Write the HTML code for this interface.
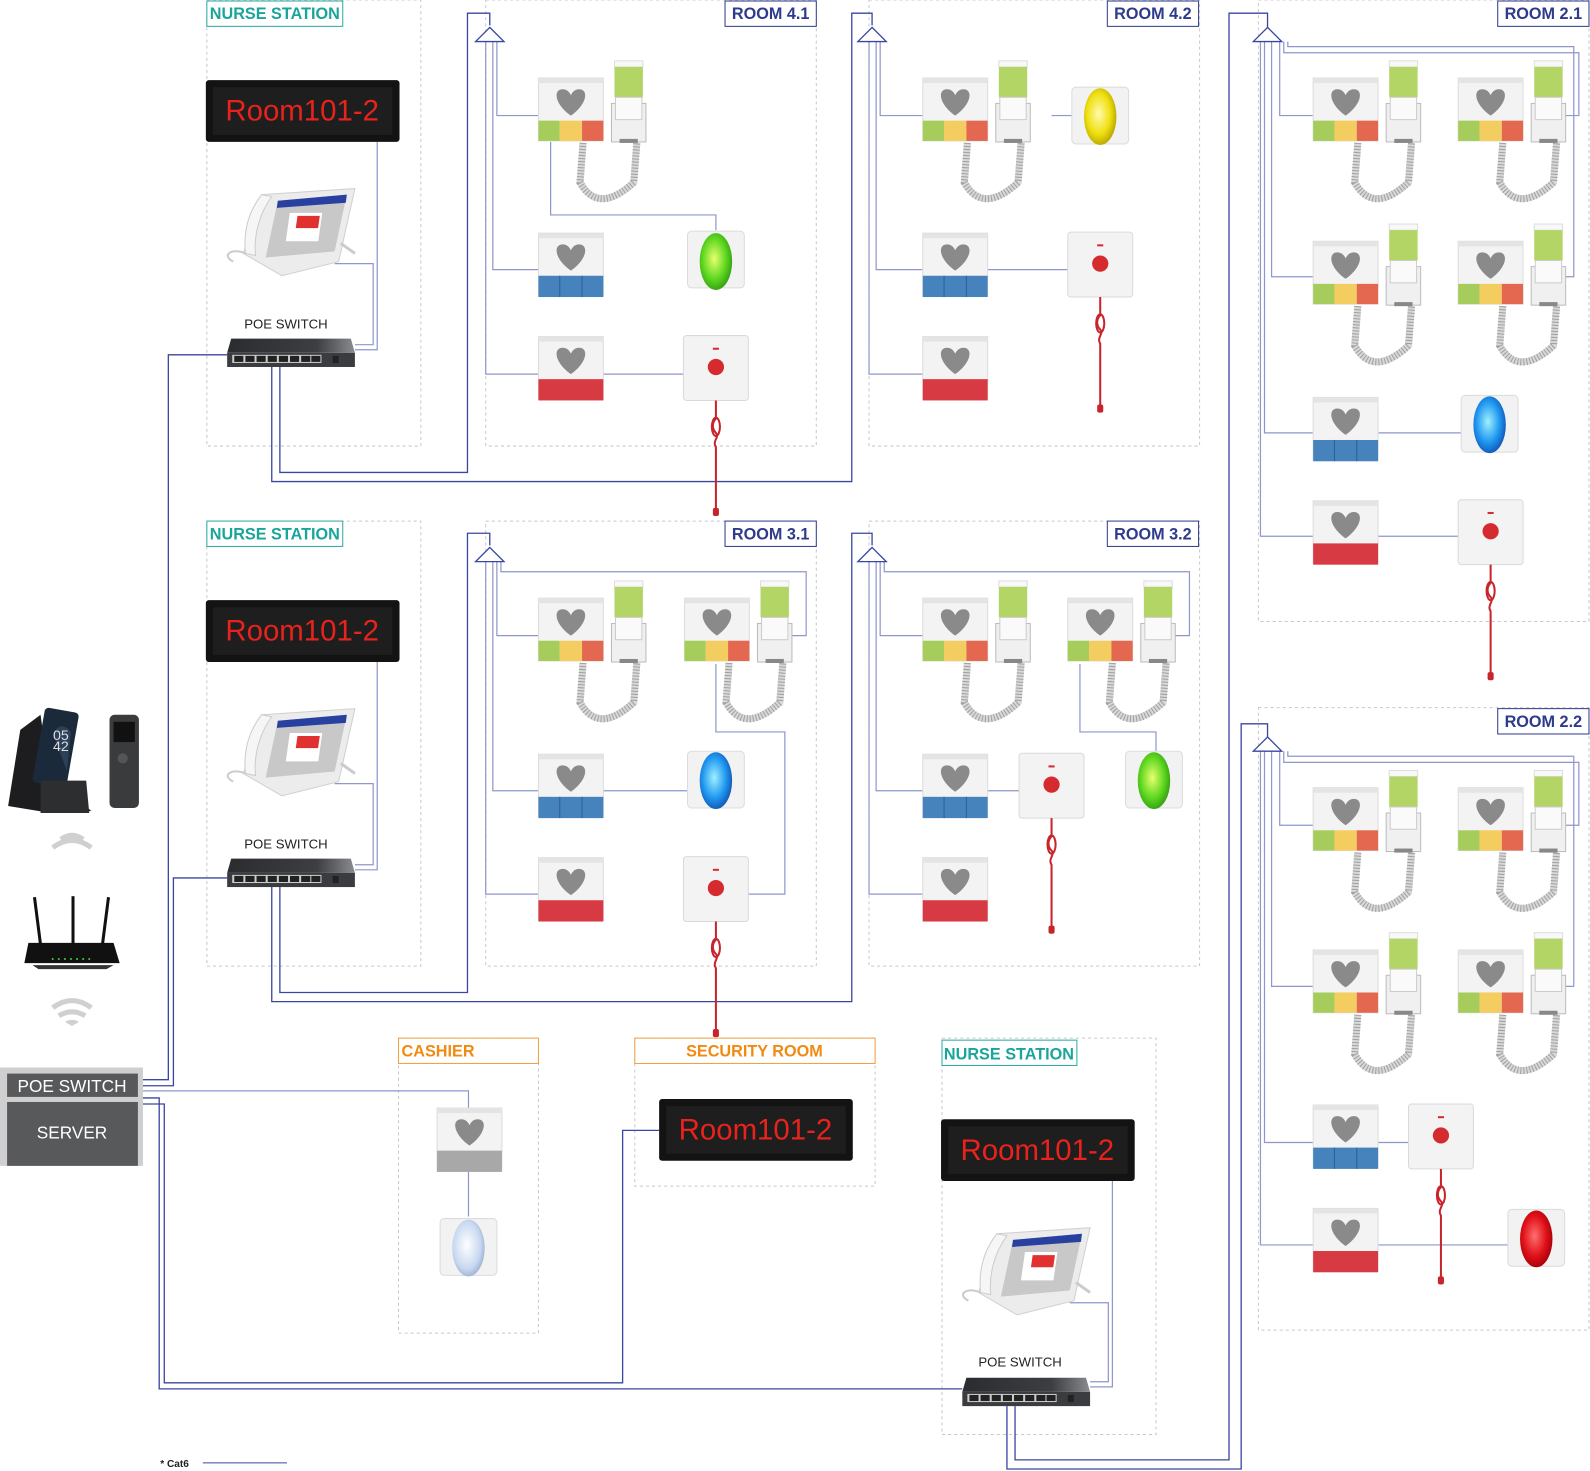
<!DOCTYPE html>
<html><head><meta charset="utf-8"><style>
html,body{margin:0;padding:0;background:#fff;}
svg{display:block;}
.lbl{font-family:"Liberation Sans",sans-serif;font-weight:bold;}
</style></head><body>
<svg width="1590" height="1471" viewBox="0 0 1568 1451" preserveAspectRatio="none" xmlns="http://www.w3.org/2000/svg">
<defs>
<radialGradient id="gG" cx="0.45" cy="0.45" r="0.6"><stop offset="0" stop-color="#e8ff70"/><stop offset="0.6" stop-color="#5fd820"/><stop offset="1" stop-color="#2f9a10"/></radialGradient>
<radialGradient id="gY" cx="0.45" cy="0.45" r="0.6"><stop offset="0" stop-color="#fffab0"/><stop offset="0.6" stop-color="#f0e010"/><stop offset="1" stop-color="#b0a000"/></radialGradient>
<radialGradient id="gB" cx="0.45" cy="0.45" r="0.6"><stop offset="0" stop-color="#a0f0ff"/><stop offset="0.6" stop-color="#2098f0"/><stop offset="1" stop-color="#1050b0"/></radialGradient>
<radialGradient id="gR" cx="0.45" cy="0.45" r="0.6"><stop offset="0" stop-color="#ff7070"/><stop offset="0.6" stop-color="#e01018"/><stop offset="1" stop-color="#a00008"/></radialGradient>
<radialGradient id="gL" cx="0.45" cy="0.45" r="0.6"><stop offset="0" stop-color="#ffffff"/><stop offset="0.7" stop-color="#c8d8f0"/><stop offset="1" stop-color="#98acd0"/></radialGradient>
<linearGradient id="sw" x1="0" y1="0" x2="1" y2="0"><stop offset="0" stop-color="#2a2c30"/><stop offset="0.7" stop-color="#3c3e42"/><stop offset="1" stop-color="#8a8c90"/></linearGradient>
<path id="heart" d="M32 37 C16 26,14 11,24 11 C28 11,31 14,32 17 C33 14,36 11,40 11 C50 11,48 26,32 37 Z" fill="#8a8a8a"/>
<g id="pbase"><rect x="0" y="0" width="64" height="62" fill="#f3f3f3" stroke="#dcdcdc"/><rect x="0" y="0" width="64" height="5" fill="#e4e4e4"/><use href="#heart"/></g>
<g id="p3"><use href="#pbase"/><rect x="0" y="42" width="21" height="20" fill="#a6cd5b"/><rect x="21" y="42" width="22" height="20" fill="#f3cd5f"/><rect x="43" y="42" width="21" height="20" fill="#e4684f"/></g>
<g id="pb"><use href="#pbase"/><rect x="0" y="42" width="64" height="21" fill="#4682bc"/><line x1="21" y1="42" x2="21" y2="63" stroke="#2e5f90"/><line x1="43" y1="42" x2="43" y2="63" stroke="#2e5f90"/></g>
<g id="pr"><use href="#pbase"/><rect x="0" y="42" width="64" height="21" fill="#d83a44"/></g>
<g id="pg"><use href="#pbase"/><rect x="0" y="42" width="64" height="21" fill="#a8a8a8"/></g>
<g id="st"><use href="#p3"/>
 <path d="M44 64 L41 103 Q59 135 94 103 L97 64" fill="none" stroke="#d8d8d8" stroke-width="7"/>
 <path d="M44 64 L41 103 Q59 135 94 103 L97 64" fill="none" stroke="#a0a0a0" stroke-width="7" stroke-dasharray="1 2"/>
 <rect x="75" y="-17" width="28" height="6" fill="#f8f8f8" stroke="#ddd"/>
 <rect x="75" y="-11" width="28" height="30" fill="#b2d565"/>
 <rect x="72" y="25" width="34" height="38" fill="#f0f0f0" stroke="#bbb"/>
 <rect x="76" y="19" width="26" height="22" fill="#fafafa" stroke="#ccc"/>
 <rect x="80" y="60" width="18" height="4" fill="#888"/></g>
<g id="pc"><rect x="0" y="0" width="64" height="64" rx="3" fill="#f3f3f3" stroke="#dadada"/><rect x="29" y="12" width="6" height="2" fill="#d52b2f"/><circle cx="32" cy="31" r="8" fill="#d52b2f"/>
 <path d="M32 64 L32 82 C28 86,28 92,32 96 C36 100,28 104,32 110 L32 176" fill="none" stroke="#c8252b" stroke-width="2"/>
 <ellipse cx="32" cy="90" rx="4" ry="9" fill="none" stroke="#c8252b" stroke-width="2"/>
 <rect x="29" y="170" width="6" height="8" rx="2" fill="#c8252b"/></g>
<g id="ovbox"><rect x="0" y="4" width="56" height="56" rx="4" fill="#f2f2f2" stroke="#dcdcdc"/></g>
<g id="led"><rect x="0" y="0" width="191" height="61" rx="3" fill="#131313"/><rect x="7" y="7" width="177" height="47" fill="#1e1e1e"/></g>
<g id="sw8"><path d="M4 0 L122 0 L126 14 L0 14 Z" fill="url(#sw)"/><rect x="0" y="14" width="126" height="14" fill="#3a3c40"/><rect x="5" y="16" width="88" height="8" fill="#ccc"/>
 <g fill="#222"><rect x="7" y="17" width="9" height="6"/><rect x="18" y="17" width="9" height="6"/><rect x="29" y="17" width="9" height="6"/><rect x="40" y="17" width="9" height="6"/><rect x="51" y="17" width="9" height="6"/><rect x="62" y="17" width="9" height="6"/><rect x="73" y="17" width="9" height="6"/><rect x="83" y="17" width="9" height="6"/><rect x="104" y="17" width="6" height="7"/></g></g>
<g id="phone"><path d="M40 12 L132 6 L116 78 L60 92 L22 70 Z" fill="#ececec" stroke="#d0d0d0"/>
 <path d="M56 18 L124 12 L112 68 L44 74 Z" fill="#c8c8c8"/><path d="M56 18 L124 12 L123 20 L55 25 Z" fill="#2840a0"/>
 <rect x="72" y="30" width="32" height="28" fill="#fff" transform="skewX(-8)"/><rect x="80" y="33" width="22" height="12" fill="#e03030" transform="skewX(-8)"/>
 <path d="M40 12 C26 30,22 50,24 70 L34 72 C32 52,38 30,50 14 Z" fill="#f6f6f6" stroke="#ccc"/>
 <path d="M24 70 C10 64,0 72,12 78" fill="none" stroke="#ccc" stroke-width="2"/>
 <path d="M118 60 L132 70" stroke="#ccc" stroke-width="3"/></g>
</defs>

<g fill="none" stroke="#c8c8c8" stroke-dasharray="3 3">
<rect x="204" y="0" width="211" height="440"/><rect x="479" y="0" width="326" height="440"/><rect x="857" y="0" width="326" height="440"/>
<rect x="1241" y="0" width="326" height="613"/>
<rect x="204" y="514" width="211" height="439"/><rect x="479" y="514" width="326" height="439"/><rect x="857" y="514" width="326" height="439"/>
<rect x="1241" y="698" width="326" height="614"/>
<rect x="393" y="1024" width="138" height="291"/><rect x="626" y="1024" width="237" height="146"/><rect x="929" y="1024" width="211" height="391"/>
</g>

<g fill="none" stroke="#3a47a0" stroke-width="1.3">
<path d="M140 1065 H166 V350 H224"/><path d="M140 1071 H171 V866 H224"/>
<path d="M140 1083 H157 V1370 H949"/><path d="M140 1089 H162 V1364 H614 V1115 H650"/>
<path d="M268 362 V475 H840 V13 H860 V25"/><path d="M276 362 V466 H461 V13 H483 V25"/>
<path d="M268 875 V988 H840 V526 H860 V538"/><path d="M276 875 V979 H461 V526 H483 V538"/>
<path d="M993 1387 V1449 H1224 V714 H1250 V728"/><path d="M1001 1387 V1440 H1212 V13 H1250 V28"/>
</g>
<g fill="none" stroke="#8e96cc" stroke-width="1.2">
<path d="M140 1076 H462 V1093"/><path d="M462 1155 V1200"/>
<path d="M372 140 V345 H350"/><path d="M330 260 H368 V340 H350"/>
<path d="M372 653 V858 H350"/><path d="M330 773 H368 V853 H350"/>
<path d="M1097 1165 V1368 H1075"/><path d="M1055 1285 H1093 V1363 H1075"/>
<path d="M490 41 V114 H531"/><path d="M486 41 V266 H531"/><path d="M479 41 V369 H531"/><path d="M595 369 H674"/><path d="M543 140 V212 H706 V227"/>
<path d="M868 41 V114 H910"/><path d="M864 41 V266 H910"/><path d="M857 41 V369 H910"/><path d="M973 266 H1053"/><path d="M1037 114 H1058"/>
<path d="M490 554 V627 H531"/><path d="M494 554 V564 H795 V627 H780"/><path d="M486 554 V780 H531"/><path d="M595 780 H681"/><path d="M479 554 V882 H531"/><path d="M706 655 V722 H774 V882 H738"/>
<path d="M868 554 V627 H910"/><path d="M872 554 V564 H1173 V627 H1158"/><path d="M864 554 V780 H910"/><path d="M973 780 H1005"/><path d="M857 554 V882 H910"/><path d="M1065 655 V722 H1140 V770"/>
<path d="M1262 41 V114 H1295"/><path d="M1266 41 V52 H1557 V114 H1540"/><path d="M1270 41 V46 H1552 V273 H1540"/><path d="M1254 41 V273 H1295"/><path d="M1247 41 V427 H1295"/><path d="M1358 427 H1443"/><path d="M1243 41 V529 H1295"/><path d="M1358 529 H1438"/>
<path d="M1262 741 V814 H1295"/><path d="M1266 741 V752 H1557 V814 H1540"/><path d="M1270 741 V746 H1552 V973 H1540"/><path d="M1254 741 V973 H1295"/><path d="M1247 741 V1127 H1295"/><path d="M1358 1127 H1389"/><path d="M1243 741 V1228 H1295"/><path d="M1358 1228 H1490"/>
</g>
<g fill="#fff" stroke="#3a47a0" stroke-width="1.3">
<path d="M483 27 L497 41 L469 41 Z"/><path d="M860 27 L874 41 L846 41 Z"/><path d="M1250 27 L1264 41 L1236 41 Z"/>
<path d="M483 540 L497 554 L469 554 Z"/><path d="M860 540 L874 554 L846 554 Z"/><path d="M1250 727 L1264 741 L1236 741 Z"/>
</g>

<g class="lbl" font-size="16" text-anchor="middle">
<rect x="204" y="1" width="134" height="25" fill="#fff" stroke="#2aaaa0"/><text x="271" y="19" fill="#1aa59a">NURSE STATION</text>
<rect x="204" y="514" width="134" height="25" fill="#fff" stroke="#2aaaa0"/><text x="271" y="532" fill="#1aa59a">NURSE STATION</text>
<rect x="929" y="1026" width="133" height="25" fill="#fff" stroke="#2aaaa0"/><text x="995" y="1045" fill="#1aa59a">NURSE STATION</text>
<rect x="715" y="1" width="90" height="25" fill="#fff" stroke="#2e3a8c"/><text x="760" y="19" fill="#2e3a8c">ROOM 4.1</text>
<rect x="1092" y="1" width="90" height="25" fill="#fff" stroke="#2e3a8c"/><text x="1137" y="19" fill="#2e3a8c">ROOM 4.2</text>
<rect x="1477" y="1" width="90" height="25" fill="#fff" stroke="#2e3a8c"/><text x="1522" y="19" fill="#2e3a8c">ROOM 2.1</text>
<rect x="715" y="514" width="90" height="25" fill="#fff" stroke="#2e3a8c"/><text x="760" y="532" fill="#2e3a8c">ROOM 3.1</text>
<rect x="1092" y="514" width="90" height="25" fill="#fff" stroke="#2e3a8c"/><text x="1137" y="532" fill="#2e3a8c">ROOM 3.2</text>
<rect x="1477" y="699" width="90" height="25" fill="#fff" stroke="#2e3a8c"/><text x="1522" y="717" fill="#2e3a8c">ROOM 2.2</text>
<rect x="393" y="1024" width="138" height="25" fill="#fff" stroke="#f0a040"/><text x="432" y="1042" fill="#f08a10">CASHIER</text>
<rect x="626" y="1024" width="237" height="25" fill="#fff" stroke="#f0a040"/><text x="744" y="1042" fill="#f08a10">SECURITY ROOM</text>
</g>
<g font-family="Liberation Sans,sans-serif" font-size="13" text-anchor="middle" fill="#222">
<text x="282" y="324">POE SWITCH</text><text x="282" y="837">POE SWITCH</text><text x="1006" y="1348">POE SWITCH</text></g>

<use href="#led" x="203" y="79"/><use href="#led" x="203" y="592"/><use href="#led" x="650" y="1084"/><use href="#led" x="928" y="1104"/>
<g font-family="Liberation Sans,sans-serif" font-size="29" fill="#e8221c" text-anchor="middle">
<text x="298" y="119">Room101-2</text><text x="298" y="632">Room101-2</text><text x="745" y="1124">Room101-2</text><text x="1023" y="1144">Room101-2</text></g>
<use href="#phone" x="218" y="180"/><use href="#phone" x="218" y="693"/><use href="#phone" x="943" y="1205"/>
<use href="#sw8" x="224" y="334"/><use href="#sw8" x="224" y="847"/><use href="#sw8" x="949" y="1359"/>

<use href="#st" x="531" y="77"/><use href="#pb" x="531" y="230"/><use href="#pr" x="531" y="332"/>
<use href="#ovbox" x="678" y="224"/><ellipse cx="706" cy="258" rx="16" ry="28" fill="url(#gG)"/>
<use href="#pc" x="674" y="331"/>
<use href="#st" x="910" y="77"/><use href="#pb" x="910" y="230"/><use href="#pr" x="910" y="332"/>
<use href="#ovbox" x="1057" y="82"/><ellipse cx="1085" cy="115" rx="16" ry="28" fill="url(#gY)"/>
<use href="#pc" x="1053" y="229"/>
<use href="#st" x="1295" y="77"/><use href="#st" x="1438" y="77"/><use href="#st" x="1295" y="238"/><use href="#st" x="1438" y="238"/>
<use href="#pb" x="1295" y="392"/><use href="#ovbox" x="1441" y="386"/><ellipse cx="1469" cy="419" rx="16" ry="28" fill="url(#gB)"/>
<use href="#pr" x="1295" y="494"/><use href="#pc" x="1438" y="493"/>
<use href="#st" x="531" y="590"/><use href="#st" x="675" y="590"/><use href="#pb" x="531" y="744"/><use href="#pr" x="531" y="846"/>
<use href="#ovbox" x="678" y="737"/><ellipse cx="706" cy="770" rx="16" ry="28" fill="url(#gB)"/>
<use href="#pc" x="674" y="845"/>
<use href="#st" x="910" y="590"/><use href="#st" x="1053" y="590"/><use href="#pb" x="910" y="744"/><use href="#pr" x="910" y="846"/>
<use href="#pc" x="1005" y="743"/>
<use href="#ovbox" x="1110" y="737"/><ellipse cx="1138" cy="770" rx="16" ry="28" fill="url(#gG)"/>
<use href="#st" x="1295" y="777"/><use href="#st" x="1438" y="777"/><use href="#st" x="1295" y="937"/><use href="#st" x="1438" y="937"/>
<use href="#pb" x="1295" y="1090"/><use href="#pc" x="1389" y="1089"/>
<use href="#pr" x="1295" y="1192"/><use href="#ovbox" x="1487" y="1189"/><ellipse cx="1515" cy="1222" rx="16" ry="28" fill="url(#gR)"/>
<use href="#pg" x="431" y="1093"/>
<use href="#ovbox" x="434" y="1198"/><ellipse cx="462" cy="1231" rx="16" ry="28" fill="url(#gL)"/>

<path d="M8 795 L20 720 L40 705 L50 780 L70 782 L90 800 L50 802 Z" fill="#1d1d1f"/>
<rect x="38" y="700" width="34" height="75" rx="4" fill="#1a2a3a" transform="rotate(10 55 737)"/>
<path d="M52 724 Q60 710 70 722 L66 760 Z" fill="#3a5070" opacity="0.6"/>
<text x="60" y="730" font-family="Liberation Sans,sans-serif" font-size="14" fill="#ddd" text-anchor="middle">05</text>
<text x="60" y="741" font-family="Liberation Sans,sans-serif" font-size="14" fill="#ddd" text-anchor="middle">42</text>
<path d="M40 770 L85 770 L88 802 L40 802 Z" fill="#2c2e30"/>
<rect x="108" y="705" width="29" height="92" rx="5" fill="#3a3b3d"/><rect x="112" y="712" width="21" height="20" fill="#111"/><circle cx="121" cy="748" r="5" fill="#555"/>
<g fill="none" stroke="#d0d0d0" stroke-width="5"><path d="M52 836 Q71 822 90 836"/><path d="M60 828 Q71 820 82 828"/><path d="M52 994 Q71 980 90 994"/><path d="M58 1002 Q71 994 84 1002"/></g>
<path d="M64 1008 Q71 1004 78 1008 L71 1012 Z" fill="#d0d0d0"/>
<g stroke="#111" stroke-width="3"><line x1="34" y1="885" x2="40" y2="932"/><line x1="72" y1="884" x2="72" y2="932"/><line x1="107" y1="885" x2="101" y2="932"/></g>
<path d="M28 930 L112 930 L118 950 L24 950 Z" fill="#111"/><path d="M32 952 L112 952 L105 956 L38 956 Z" fill="#333"/>
<g fill="#4c4"><circle cx="52" cy="946" r="1"/><circle cx="58" cy="946" r="1"/><circle cx="64" cy="946" r="1"/><circle cx="70" cy="946" r="1"/><circle cx="76" cy="946" r="1"/><circle cx="82" cy="946" r="1"/><circle cx="88" cy="946" r="1"/></g>
<rect x="0" y="1053" width="141" height="97" fill="#cfcfcf"/>
<rect x="7" y="1059" width="129" height="23" fill="#58595b"/><rect x="7" y="1087" width="129" height="63" fill="#58595b"/>
<g font-family="Liberation Sans,sans-serif" font-size="17" fill="#fff" text-anchor="middle"><text x="71" y="1077">POE SWITCH</text><text x="71" y="1123">SERVER</text></g>
<text x="158" y="1447" font-family="Liberation Sans,sans-serif" font-size="10" font-weight="bold" fill="#222">* Cat6</text>
<line x1="200" y1="1443" x2="283" y2="1443" stroke="#3a47a0" stroke-width="1"/>
</svg>
</body></html>
